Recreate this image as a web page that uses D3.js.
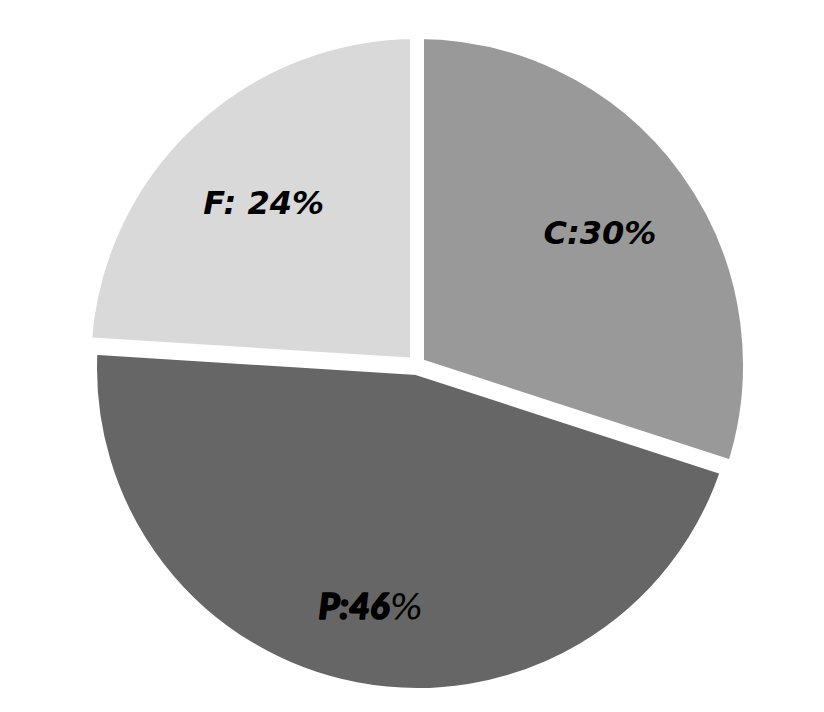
<!DOCTYPE html>
<html>
<head>
<meta charset="utf-8">
<script src="https://cdn.jsdelivr.net/npm/d3@7"></script>
<style>
  html, body { margin: 0; padding: 0; background: #ffffff; }
  svg { display: block; }
</style>
</head>
<body>
<script>
// ---- data ----
const categories = ["C", "P", "F"];
const values = [30, 46, 24];
const labelTexts = ["C:30%", "P:46", "F: 24%"];
const labelSuffix = ["", "%", ""];
const colors = ["#999999", "#666666", "#d9d9d9"];

// ---- layout ----
const W = 824, H = 712;
const cx = 417, cy = 365, R = 333;
const svg = d3.select("body").append("svg").attr("width", W).attr("height", H);
const g = svg.append("g").attr("transform", `translate(${cx},${cy})`);

const data = categories.map((c, i) => ({ cat: c, value: values[i], label: labelTexts[i], suffix: labelSuffix[i], color: colors[i] }));
const pie = d3.pie().value(d => d.value).sort(null);
const arcs = pie(data);

// slight per-slice styling (the large slice sits a touch smaller/lower)
const sliceStyle = { C: { r: R, dy: 0 }, P: { r: R - 6, dy: 3 }, F: { r: R, dy: 0 } };
const arcFor = d => d3.arc().innerRadius(0).outerRadius(sliceStyle[d.data.cat].r)(d);

g.selectAll("path.slice").data(arcs).enter().append("path")
  .attr("class", "slice")
  .attr("d", arcFor)
  .attr("transform", d => `translate(0,${sliceStyle[d.data.cat].dy})`)
  .attr("fill", d => d.data.color)
  .attr("stroke", "#ffffff")
  .attr("stroke-width", 14)
  .attr("stroke-linejoin", "miter");

// labels at the angular bisector
const labelRadius = { C: 226, P: 246, F: 224 };
const lbl = g.selectAll("text.lbl").data(arcs).enter().append("text")
  .attr("class", "lbl")
  .attr("text-anchor", "middle")
  .attr("transform", d => {
    const a = (d.startAngle + d.endAngle) / 2;
    const r = labelRadius[d.data.cat];
    return `translate(${r * Math.sin(a)},${-r * Math.cos(a) + 12})`;
  })
  .style("font-style", "italic")
  .style("fill", "#000");

lbl.filter(d => d.data.cat !== "P")
  .style("font-family", "'DejaVu Sans', sans-serif")
  .style("font-weight", "bold")
  .style("font-size", "32px")
  .text(d => d.data.label);

const pl = lbl.filter(d => d.data.cat === "P");
pl.append("tspan")
  .style("font-family", "Lato, 'DejaVu Sans', sans-serif")
  .style("font-weight", "900")
  .style("font-size", "36px")
  .style("stroke", "#000")
  .style("stroke-width", "1.6px")
  .style("stroke-linejoin", "round")
  .text(d => d.data.label);
pl.append("tspan")
  .style("font-family", "'DejaVu Sans', sans-serif")
  .style("font-weight", "200")
  .style("font-size", "36px")
  .text(d => d.data.suffix);
</script>
</body>
</html>
